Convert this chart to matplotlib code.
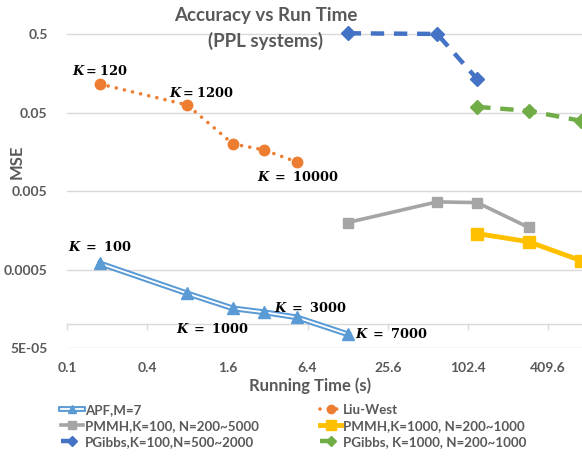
import matplotlib
matplotlib.use("Agg")
import matplotlib.pyplot as plt
import matplotlib.patheffects as pe

plt.rcParams["mathtext.fontset"] = "dejavuserif"

# ---- data ----
apf_t = [0.177, 0.80, 1.76, 3.0, 5.3, 12.8]
apf_mse = [0.000598, 0.000248, 0.000160, 0.000143, 0.000123, 0.000075]

lw_t = [0.177, 0.80, 1.76, 3.0, 5.3]
lw_mse = [0.116, 0.0627, 0.0200, 0.0168, 0.0118]

pmmh100_t = [12.8, 60.0, 120.0, 293.0]
pmmh100_mse = [0.00199, 0.00365, 0.00357, 0.00172]

pmmh1000_t = [120.0, 293.0, 722.0]
pmmh1000_mse = [0.00144, 0.00113, 0.00065]

pg100_t = [12.8, 60.0, 120.0]
pg100_mse = [0.515, 0.505, 0.134]

pg1000_t = [120.0, 293.0, 722.0]
pg1000_mse = [0.0594, 0.0528, 0.0394]

x_ticks = [0.1, 0.4, 1.6, 6.4, 25.6, 102.4, 409.6]
x_ticklabels = ["0.1", "0.4", "1.6", "6.4", "25.6", "102.4", "409.6"]
y_ticks = [5e-5, 5e-4, 5e-3, 5e-2, 0.5]
y_ticklabels = ["5E-05", "0.0005", "0.005", "0.05", "0.5"]

# annotations: (text, x, y) in data coords
apf_notes = [
    (r"$\mathbfit{K}\mathbf{\ =\ 100}$", 0.177, 0.00098),
    (r"$\mathbfit{K}\mathbf{\ =\ 1000}$", 1.23, 0.0000885),
    (r"$\mathbfit{K}\mathbf{\ =\ 3000}$", 6.7, 0.000163),
    (r"$\mathbfit{K}\mathbf{\ =\ 7000}$", 27.0, 0.0000765),
]
lw_notes = [
    (r"$\mathbfit{K}\mathbf{=120}$", 0.177, 0.170),
    (r"$\mathbfit{K}\mathbf{=1200}$", 1.02, 0.0880),
    (r"$\mathbfit{K}\mathbf{\ =\ 10000}$", 5.4, 0.00750),
]

GRAY = "#595959"
FONT = "Lato"

fig = plt.figure(figsize=(5.82, 4.57), dpi=100)
ax = fig.add_axes([0.1151, 0.2385, 0.8849, 0.7025])
ax.set_xscale("log")
ax.set_yscale("log")
ax.set_xlim(0.1, 734)
ax.set_ylim(5e-5, 0.62)

for s in ax.spines.values():
    s.set_visible(False)

for yv in y_ticks:
    ax.axhline(yv, color="#D9D9D9", lw=1.0, zorder=0)
# horizontal axis line crosses at 1e-4
ax.axhline(1e-4, color="#D9D9D9", lw=1.0, zorder=0)
for xv in x_ticks:
    ax.plot([xv, xv], [1e-4, 1e-4 / 1.13], color="#D9D9D9", lw=1.0, zorder=0, clip_on=False)

ax.set_xticks(x_ticks)
ax.set_xticklabels(x_ticklabels)
ax.set_yticks(y_ticks)
ax.set_yticklabels(y_ticklabels)
ax.minorticks_off()
ax.tick_params(length=0, labelcolor=GRAY)
for lab in ax.get_xticklabels() + ax.get_yticklabels():
    lab.set_fontfamily(FONT)
    lab.set_fontweight("bold")
    lab.set_fontsize(10)
ax.tick_params(axis="x", pad=10)
ax.tick_params(axis="y", pad=14)

# APF: double line
apf_line, = ax.plot(apf_t, apf_mse, color="white", lw=1.3, zorder=3,
                    path_effects=[pe.Stroke(linewidth=4.2, foreground="#5B9BD5"), pe.Normal()])
apf_mk, = ax.plot(apf_t, apf_mse, ls="none", marker="^", ms=8, color="#5B9BD5", zorder=4)

lw_h, = ax.plot(lw_t, lw_mse, color="#ED7D31", lw=2.6, ls=(0, (0.01, 2.3)),
                dash_capstyle="round", marker="o", ms=7.5, zorder=4)
pm100_h, = ax.plot(pmmh100_t, pmmh100_mse, color="#A5A5A5", lw=2.6, marker="s", ms=7, zorder=4)
pm1000_h, = ax.plot(pmmh1000_t, pmmh1000_mse, color="#FFC000", lw=3.5, marker="s", ms=8.5,
                    zorder=4, clip_on=False)
pg100_h, = ax.plot(pg100_t, pg100_mse, color="#4472C4", lw=3.2, ls=(0, (3, 2.2)),
                   marker="D", ms=7, zorder=4, clip_on=False)
pg1000_h, = ax.plot(pg1000_t, pg1000_mse, color="#70AD47", lw=3.2, ls=(0, (3, 2.2)),
                    marker="D", ms=7, zorder=4, clip_on=False)

for txt, x, y in apf_notes + lw_notes:
    ax.text(x, y, txt, fontsize=9.3, color="black", ha="center", va="center", zorder=5)

fig.text(0.456, 0.967, "Accuracy vs Run Time", ha="center", va="center",
         fontsize=13.5, fontweight="bold", color=GRAY, family=FONT)
fig.text(0.457, 0.911, "(PPL systems)", ha="center", va="center",
         fontsize=13.5, fontweight="bold", color=GRAY, family=FONT)
fig.text(0.028, 0.645, "MSE", rotation=90, ha="center", va="center",
         fontsize=12, fontweight="bold", color=GRAY, family=FONT)
fig.text(0.532, 0.157, "Running Time (s)", ha="center", va="center",
         fontsize=12, fontweight="bold", color=GRAY, family=FONT)

handles = [(apf_line, apf_mk), pm100_h, pg100_h, lw_h, pm1000_h, pg1000_h]
labels = ["APF,M=7", "PMMH,K=100, N=200~5000", "PGibbs,K=100,N=500~2000",
          "Liu-West", "PMMH,K=1000, N=200~1000", "PGibbs, K=1000, N=200~1000"]
leg = fig.legend(handles, labels, ncol=2, loc="upper left", bbox_to_anchor=(0.085, 0.143),
                 frameon=False, handlelength=1.6, handletextpad=0.15, columnspacing=4.6,
                 labelspacing=0.3, markerscale=0.8,
                 prop={"family": FONT, "weight": "bold", "size": 9.6})
for t in leg.get_texts():
    t.set_color(GRAY)

fig.savefig("out.png", dpi=100)
